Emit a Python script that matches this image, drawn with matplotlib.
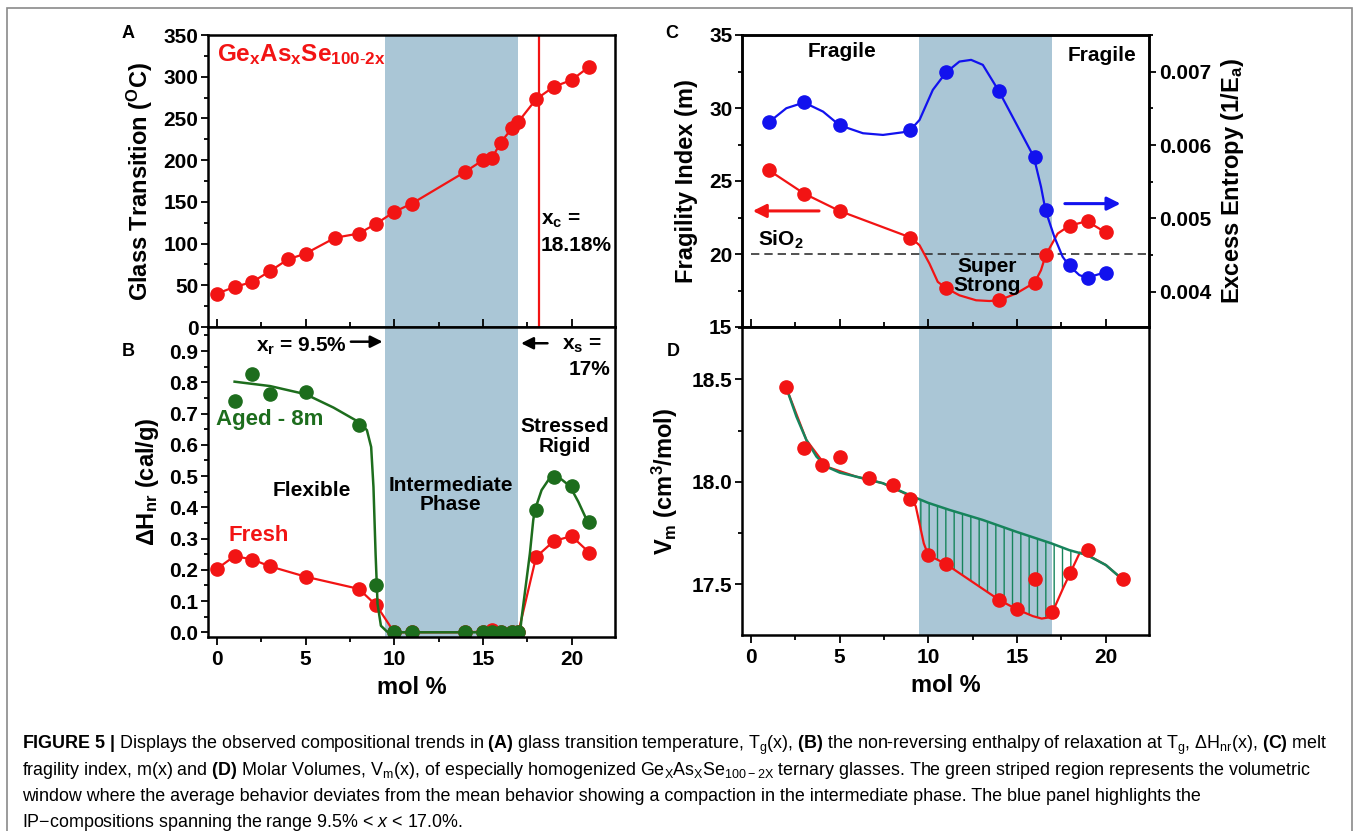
import numpy as np
import matplotlib
matplotlib.use("Agg")
import matplotlib.pyplot as plt
from matplotlib.patches import Rectangle
from matplotlib.ticker import MultipleLocator, FormatStrFormatter

plt.rcParams['font.family'] = ['Liberation Sans', 'DejaVu Sans']
plt.rcParams['font.weight'] = 'bold'
plt.rcParams['axes.labelweight'] = 'bold'
plt.rcParams['mathtext.fontset'] = 'custom'
plt.rcParams['mathtext.rm'] = 'Liberation Sans:weight=normal'
plt.rcParams['mathtext.bf'] = 'Liberation Sans:weight=bold'
plt.rcParams['mathtext.it'] = 'Liberation Sans:style=italic:weight=normal'
plt.rcParams['hatch.linewidth'] = 1.0

RED = '#f21414'
GREEN_B = '#1d6d1d'
GREEN_D = '#17845c'
BLUE = '#1212ee'
IP_COLOR = '#aac6d6'
IP_LO, IP_HI = 9.5, 17.0

# (A) glass transition temperature
tg_x = [0, 1, 2, 3, 4, 5, 6.67, 8, 9, 10, 11, 14, 15, 15.5, 16, 16.67, 17, 18, 19, 20, 21]
tg_y = [40, 48, 54, 67, 81, 88, 107, 112, 124, 138, 148, 186, 200, 202, 221, 239, 246, 273, 288, 296, 312]
x_c = 18.18

# (B) non-reversing enthalpy, fresh and aged samples
fresh_x = [0, 1, 2, 3, 5, 8, 9, 10, 11, 14, 15, 15.5, 16, 16.67, 17, 18, 19, 20, 21]
fresh_y = [0.203, 0.244, 0.233, 0.211, 0.178, 0.139, 0.086, 0.0, 0.0, 0.0, 0.002, 0.006,
           0.002, 0.0, 0.0, 0.241, 0.292, 0.308, 0.255]
aged_x = [1, 2, 3, 5, 8, 9, 10, 11, 14, 15, 15.5, 16, 16.67, 17, 18, 19, 20, 21]
aged_y = [0.740, 0.828, 0.762, 0.770, 0.665, 0.152, 0.0, 0.0, 0.0, 0.0, 0.0, 0.0, 0.0, 0.0,
          0.391, 0.498, 0.468, 0.354]
aged_fit_x = [1.0, 3.0, 5.0, 6.58, 8.0, 8.46, 8.7, 8.83, 8.95, 9.06, 9.25, 9.6, 10.0, 17.1,
              17.18, 17.65, 17.84, 17.93, 18.31, 18.69, 18.94, 19.44, 19.9, 20.38, 20.9]
aged_fit_y = [0.802, 0.788, 0.762, 0.719, 0.673, 0.647, 0.593, 0.465, 0.251, 0.091, 0.021,
              0.002, 0.0, 0.0, 0.044, 0.252, 0.359, 0.391, 0.455, 0.487, 0.498, 0.489, 0.468,
              0.418, 0.354]

# (C) fragility index (left axis) and excess entropy (right axis)
frag_x = [1, 3, 5, 9, 11, 14, 16, 16.67, 18, 19, 20]
frag_m = [25.74, 24.14, 22.95, 21.13, 17.67, 16.83, 18.04, 19.91, 21.93, 22.25, 21.51]
frag_curve_x = [1.01, 3.0, 5.0, 9.0, 9.51, 10.07, 10.54, 11.0, 11.76, 12.7, 13.45, 14.0,
                14.95, 16.0, 16.36, 16.62, 17.3, 17.95, 18.95, 19.96]
frag_curve_m = [25.74, 24.14, 22.95, 21.13, 20.6, 19.34, 18.09, 17.67, 17.17, 16.83, 16.78,
                16.83, 17.29, 18.04, 18.89, 19.91, 21.4, 21.93, 22.25, 21.51]
ent_x = [1, 3, 5, 9, 11, 14, 16, 16.67, 18, 19, 20]
ent_s = [0.00631, 0.00658, 0.00627, 0.00621, 0.00699, 0.00673, 0.00584, 0.00511,
         0.00436, 0.00419, 0.00426]
ent_curve_x = [1.01, 2.0, 3.0, 4.07, 5.0, 6.32, 7.45, 8.57, 9.0, 9.51, 10.26, 11.0, 11.76,
               12.42, 13.08, 14.0, 14.95, 15.95, 16.36, 16.62, 17.11, 17.58, 17.95, 18.52,
               18.95, 19.46, 19.96]
ent_curve_s = [0.00631, 0.006502, 0.00658, 0.006456, 0.00627, 0.006161, 0.006138, 0.006174,
               0.006206, 0.006342, 0.006752, 0.006988, 0.007138, 0.007161, 0.007093,
               0.006729, 0.006297, 0.005842, 0.005432, 0.005105, 0.00475, 0.004477,
               0.004355, 0.004228, 0.004191, 0.004228, 0.004264]
m_sio2 = 20

# (D) molar volume with the mean-behaviour trend
vm_x = [2, 3, 4, 5, 6.67, 8, 9, 10, 11, 14, 15, 16, 17, 18, 19, 21]
vm_y = [18.461, 18.163, 18.082, 18.123, 18.020, 17.985, 17.916, 17.643, 17.599, 17.424,
        17.378, 17.524, 17.363, 17.554, 17.667, 17.524]
vm_fit_x = [2.01, 2.57, 3.13, 3.70, 4.26, 5.01, 5.95, 7.45, 9.14, 9.98, 11.2, 13.08, 14.95,
            16.94, 17.95, 18.95, 20.02, 20.96]
vm_fit_y = [18.456, 18.318, 18.204, 18.123, 18.074, 18.045, 18.025, 17.993, 17.928, 17.898,
            17.863, 17.814, 17.757, 17.700, 17.667, 17.643, 17.594, 17.524]
vm_ip_x = [2.01, 3.13, 4.26, 5.95, 7.45, 9.0, 9.3, 9.75, 10.0, 11.0, 14.0, 15.0, 15.9,
           16.4, 16.75, 17.0, 17.6, 18.0, 18.55, 19.0, 20.02, 20.96]
vm_ip_y = [18.456, 18.204, 18.074, 18.025, 17.993, 17.930, 17.880, 17.700, 17.643, 17.599,
           17.424, 17.378, 17.345, 17.333, 17.338, 17.363, 17.480, 17.554, 17.655, 17.643,
           17.594, 17.524]


def style(ax, bottom_labels=True, bottom_dir='out'):
    for s in ax.spines.values():
        s.set_linewidth(1.8)
    ax.xaxis.set_major_locator(MultipleLocator(5))
    ax.xaxis.set_minor_locator(MultipleLocator(2.5))
    ax.tick_params(axis='y', which='both', direction='out', width=1.3, labelsize=15, pad=2)
    ax.tick_params(axis='y', which='major', length=5)
    ax.tick_params(axis='y', which='minor', length=3)
    ax.tick_params(axis='x', which='both', direction=bottom_dir, width=1.3, labelsize=15,
                   labelbottom=bottom_labels)
    ax.tick_params(axis='x', which='major', length=6)
    ax.tick_params(axis='x', which='minor', length=3.5)
    ax.set_xlim(-0.5, 22.45)
    ax.axvspan(IP_LO, IP_HI, color=IP_COLOR, lw=0, zorder=0)


fig = plt.figure(figsize=(13.58, 8.31), dpi=100)
W, H = 1358, 831


def box(x0, y0, x1, y1):
    return [x0 / W, 1 - y1 / H, (x1 - x0) / W, (y1 - y0) / H]


fig.patches.append(Rectangle((7 / W, -0.05), 1345 / W, 1 - 8 / H + 0.05,
                             transform=fig.transFigure, fill=False, ec='#8a8a8a', lw=1.2))

axA = fig.add_axes(box(208, 35, 615, 327))
axB = fig.add_axes(box(208, 327, 615, 637))
axC = fig.add_axes(box(742, 35, 1149, 327))
axD = fig.add_axes(box(742, 327, 1149, 635))

mk = dict(marker='o', markersize=9.5, lw=1.6)

# ---- A
style(axA, bottom_labels=False, bottom_dir='in')
axA.plot(tg_x, tg_y, color=RED, **mk)
axA.axvline(x_c, color=RED, lw=1.6)
axA.set_ylim(0, 350)
axA.yaxis.set_major_locator(MultipleLocator(50))
axA.yaxis.set_minor_locator(MultipleLocator(25))
axA.set_ylabel(r'Glass Transition ($\mathbf{^{O}}$C)', fontsize=17, labelpad=6)
axA.text(0.0, 326, r'$\mathbf{Ge_xAs_xSe_{100\text{-}2x}}$', color=RED, fontsize=17.5,
         va='center', ha='left')
axA.text(18.27, 128, r'$\mathbf{x_c}$ =', fontsize=15, va='center', ha='left')
axA.text(18.27, 98, '18.18%', fontsize=15, va='center', ha='left')

# ---- B
style(axB)
axB.plot(fresh_x, fresh_y, color=RED, **mk)
axB.plot(aged_fit_x, aged_fit_y, color=GREEN_B, lw=1.8)
axB.plot(aged_x, aged_y, 'o', color=GREEN_B, markersize=9.5)
axB.set_ylim(-0.015, 0.977)
axB.yaxis.set_major_locator(MultipleLocator(0.1))
axB.yaxis.set_minor_locator(MultipleLocator(0.05))
axB.yaxis.set_major_formatter(FormatStrFormatter('%.1f'))
axB.set_ylabel(r'$\mathbf{\Delta H_{nr}}$ (cal/g)', fontsize=17, labelpad=6)
axB.set_xlabel('mol %', fontsize=17, labelpad=5)
axB.annotate('', xy=(9.5, 0.93), xytext=(7.4, 0.93),
             arrowprops=dict(arrowstyle='-|>', color='black', lw=1.8, mutation_scale=18))
axB.annotate('', xy=(17.0, 0.925), xytext=(18.8, 0.925),
             arrowprops=dict(arrowstyle='-|>', color='black', lw=1.8, mutation_scale=18))
axB.text(2.2, 0.915, r'$\mathbf{x_r}$ = 9.5%', fontsize=15, va='center', ha='left')
axB.text(19.44, 0.917, r'$\mathbf{x_s}$ =', fontsize=15, va='center', ha='left')
axB.text(22.2, 0.84, '17%', fontsize=15, va='center', ha='right')
axB.text(19.6, 0.626, 'Stressed\nRigid', fontsize=15, ha='center', va='center',
         linespacing=1.05)
axB.text(13.18, 0.439, 'Intermediate\nPhase', fontsize=15, ha='center', va='center',
         linespacing=1.05)
axB.text(5.34, 0.455, 'Flexible', fontsize=15, ha='center', va='center')
axB.text(2.99, 0.68, 'Aged - 8m', fontsize=16, color=GREEN_B, ha='center', va='center')
axB.text(2.33, 0.311, 'Fresh', fontsize=16, color=RED, ha='center', va='center')

# ---- C
style(axC, bottom_labels=False, bottom_dir='in')
axC.set_ylim(15, 35)
axC.yaxis.set_major_locator(MultipleLocator(5))
axC.yaxis.set_minor_locator(MultipleLocator(2.5))
axC.hlines(m_sio2, 0, 22.45, colors='#333333', linestyles=(0, (5, 3)), lw=1.2)
axC.plot(frag_curve_x, frag_curve_m, color=RED, lw=1.6)
axC.plot(frag_x, frag_m, 'o', color=RED, markersize=9.5)
axC.set_ylabel('Fragility Index (m)', fontsize=17, labelpad=8)
axC2 = axC.twinx()
axC2.set_ylim(0.00352, 0.0075)
axC2.yaxis.set_major_locator(MultipleLocator(0.001))
axC2.yaxis.set_minor_locator(MultipleLocator(0.0005))
axC2.yaxis.set_major_formatter(FormatStrFormatter('%.3f'))
axC2.tick_params(axis='y', which='both', direction='out', width=1.3, labelsize=15, pad=2)
axC2.tick_params(axis='y', which='major', length=5)
axC2.tick_params(axis='y', which='minor', length=3)
for s in axC2.spines.values():
    s.set_linewidth(1.8)
axC2.plot(ent_curve_x, ent_curve_s, color=BLUE, lw=1.6)
axC2.plot(ent_x, ent_s, 'o', color=BLUE, markersize=9.5)
axC2.set_ylabel(r'Excess Entropy (1/$\mathbf{E_a}$)', fontsize=17, labelpad=6)
axC.annotate('', xy=(-0.05, 22.95), xytext=(4.0, 22.95),
             arrowprops=dict(arrowstyle='-|>', color=RED, lw=2.2, mutation_scale=20))
axC.annotate('', xy=(21.0, 23.45), xytext=(17.55, 23.45),
             arrowprops=dict(arrowstyle='-|>', color=BLUE, lw=2.2, mutation_scale=20))
axC.text(5.13, 33.9, 'Fragile', fontsize=15, ha='center', va='center')
axC.text(19.8, 33.6, 'Fragile', fontsize=15, ha='center', va='center')
axC.text(0.4, 20.95, r'SiO$\mathbf{_2}$', fontsize=15, ha='left', va='center')
axC.text(13.3, 18.5, 'Super\nStrong', fontsize=15, ha='center', va='center',
         linespacing=1.0)

# ---- D
style(axD)
axD.set_ylim(17.253, 18.755)
axD.yaxis.set_major_locator(MultipleLocator(0.5))
axD.yaxis.set_minor_locator(MultipleLocator(0.25))
axD.yaxis.set_major_formatter(FormatStrFormatter('%.1f'))
grid = np.linspace(9.14, 18.55, 200)
top = np.interp(grid, vm_fit_x, vm_fit_y)
bot = np.interp(grid, vm_ip_x, vm_ip_y)
axD.fill_between(grid, bot, top, where=top >= bot, facecolor='none', edgecolor=GREEN_D,
                 hatch='||', lw=0, zorder=1)
axD.plot(vm_ip_x, vm_ip_y, color=RED, lw=1.6, zorder=2)
axD.plot(vm_fit_x, vm_fit_y, color=GREEN_D, lw=1.8, zorder=3)
axD.plot(vm_x, vm_y, 'o', color=RED, markersize=9.5, zorder=4)
axD.set_ylabel(r'$\mathbf{V_m}$ (cm$\mathbf{^3}$/mol)', fontsize=17, labelpad=8)
axD.set_xlabel('mol %', fontsize=17, labelpad=5)

# panel letters
for lx, ly, s in [(128, 34, 'A'), (128, 352, 'B'), (672, 34, 'C'), (673, 352, 'D')]:
    fig.text(lx / W, 1 - ly / H, s, fontsize=13, ha='center', va='center')

# caption
cap = [
    r'$\mathbf{FIGURE\ 5\ |}$ Displays the observed compositional trends in $\mathbf{(A)}$ glass transition temperature, '
    r'T$_\mathrm{g}$(x), $\mathbf{(B)}$ the non-reversing enthalpy of relaxation at T$_\mathrm{g}$, '
    r'$\mathrm{\Delta}$H$_\mathrm{nr}$(x), $\mathbf{(C)}$ melt',
    r'fragility index, m(x) and $\mathbf{(D)}$ Molar Volumes, V$_\mathrm{m}$(x), of especially homogenized '
    r'Ge$_\mathrm{X}$As$_\mathrm{X}$Se$_\mathrm{100-2X}$ ternary glasses. The green striped region represents the volumetric',
    'window where the average behavior deviates from the mean behavior showing a compaction in the '
    'intermediate phase. The blue panel highlights the',
    r'IP$\mathrm{-}$compositions spanning the range 9.5% < $\mathit{x}$ < 17.0%.',
]
for i, line in enumerate(cap):
    fig.text(22 / W, 1 - (745 + 25.7 * i) / H, line, fontsize=12.9, fontweight='normal',
             ha='left', va='center')

fig.savefig('out.png', dpi=100)
